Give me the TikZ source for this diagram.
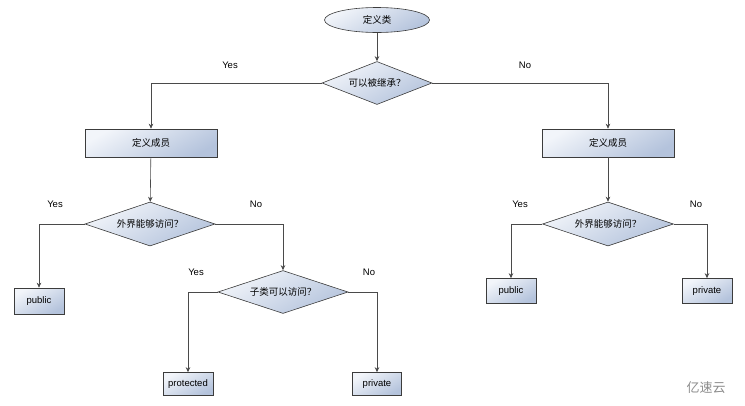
\documentclass[tikz,border=0pt]{standalone}
\usepackage{fontspec}
\setmainfont{Liberation Sans}
\newfontfamily\cjk{Noto Sans CJK SC}
\usetikzlibrary{shapes.geometric,arrows.meta}
\definecolor{edgec}{HTML}{3C3C3C}
\definecolor{linec}{HTML}{4A4A4A}
\definecolor{lightc}{HTML}{F2F5FA}
\definecolor{darkc}{HTML}{B4C3DC}
\tikzset{
  shadefill/.style={draw=edgec, line width=0.6pt, top color=lightc, bottom color=darkc, shading angle=30},
  startnode/.style={shadefill, ellipse, minimum width=105pt, minimum height=25pt, inner sep=0pt, font=\cjk\fontsize{9.5}{10}\selectfont},
  decide/.style={shadefill, diamond, aspect=3, inner sep=0pt, font=\cjk\fontsize{9.5}{10}\selectfont},
  membox/.style={shadefill, rectangle, minimum width=132pt, minimum height=28pt, inner sep=0pt, font=\cjk\fontsize{9.5}{10}\selectfont},
  leaf/.style={shadefill, rectangle, minimum width=50pt, minimum height=25pt, inner sep=0pt, font=\fontsize{9.5}{10}\selectfont},
  lbl/.style={font=\fontsize{9.5}{10}\selectfont, text=black},
  arr/.style={draw=linec, line width=0.6pt, -{Stealth[length=5pt,width=4.5pt]}},
}
\begin{document}
\begin{tikzpicture}[x=1pt,y=-1pt]
\useasboundingbox (0,0) rectangle (745,405);
\node[startnode] (cls) at (377,20) {定义类};
\node[decide, minimum width=110pt, minimum height=43pt] (inh) at (377,83) {可以被继承？};
\node[membox] (ml) at (151,143) {定义成员};
\node[membox] (mr) at (608,143) {定义成员};
\node[decide, minimum width=130pt, minimum height=44pt] (dl) at (150,224) {外界能够访问？};
\node[decide, minimum width=131pt, minimum height=44pt] (dr) at (608,224) {外界能够访问？};
\node[decide, minimum width=130pt, minimum height=43pt] (sub) at (283,292) {子类可以访问？};
\node[leaf, minimum height=26pt] (publ) at (39,301) {public};
\node[leaf, minimum height=23pt] (prot) at (188,384) {protected};
\node[leaf, minimum height=23pt, minimum width=49pt] (privl) at (377,384) {private};
\node[leaf] (pubr) at (511,291) {public};
\node[leaf] (privr) at (707,291) {private};

\node[lbl] (y1) at (230,65) {Yes};
\node[lbl] (n1) at (525,65) {No};
\node[lbl] (y2) at (55,204) {Yes};
\node[lbl] (n2) at (256,204) {No};
\node[lbl] (y3) at (196,272) {Yes};
\node[lbl] (n3) at (369,272) {No};
\node[lbl] (y4) at (520,204) {Yes};
\node[lbl] (n4) at (696,204) {No};

\draw[arr] (cls) -- (inh);
\draw[arr] (inh.west) -| (ml.north);
\draw[arr] (inh.east) -| (mr.north);
\draw[arr] (ml) -- (dl);
\draw[arr] (mr) -- (dr);
\draw[arr] (dl.west) -| (publ.north);
\draw[arr] (dl.east) -| (sub.north);
\draw[arr] (sub.west) -| (prot.north);
\draw[arr] (sub.east) -| (privl.north);
\draw[arr] (dr.west) -| (pubr.north);
\draw[arr] (dr.east) -| (privr.north);

\node[text=black!45, font=\cjk\fontsize{13}{14}\selectfont] (wm) at (706,388) {亿速云};
\end{tikzpicture}
\end{document}
